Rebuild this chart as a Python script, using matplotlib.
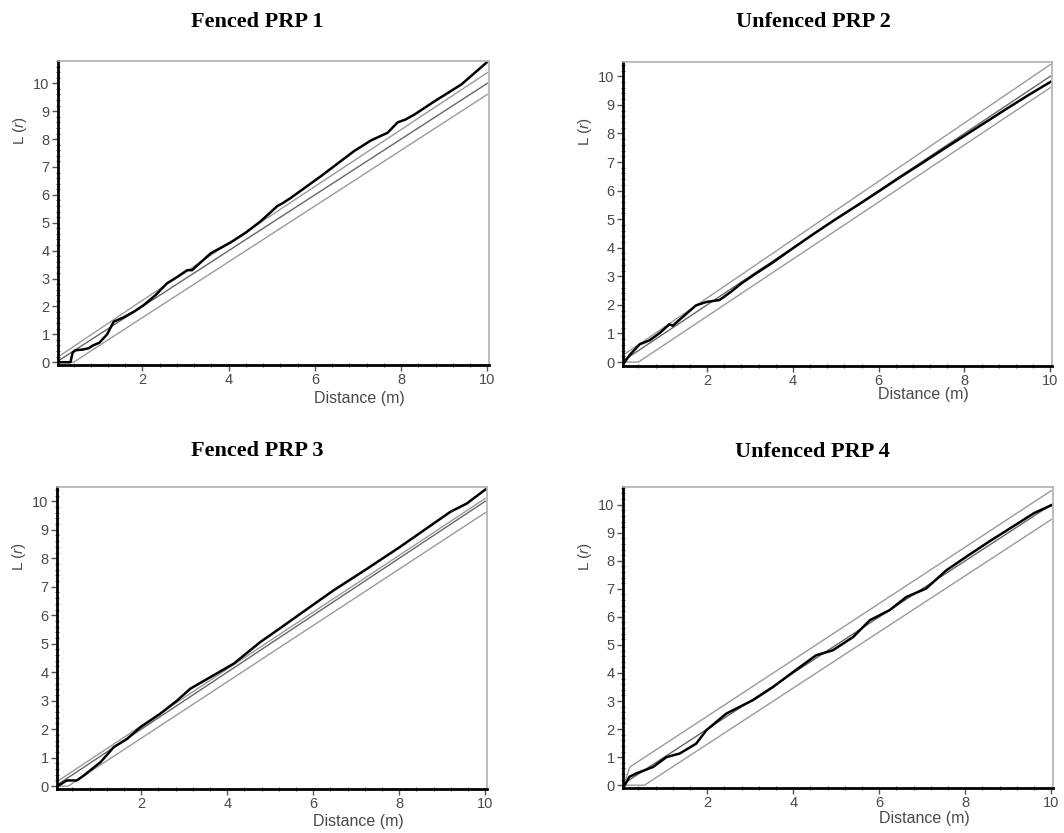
import matplotlib.pyplot as plt
from matplotlib.ticker import MultipleLocator, FixedLocator

plt.rcParams["mathtext.fontset"] = "custom"
plt.rcParams["mathtext.rm"] = "Liberation Sans"
plt.rcParams["mathtext.it"] = "Liberation Sans:italic"

# Ripley's L-function, observed curves and envelopes for four plots
TITLES = ["Fenced PRP 1", "Unfenced PRP 2", "Fenced PRP 3", "Unfenced PRP 4"]

# observed L(r)
P1_R = [0.05, 0.2, 0.33, 0.38, 0.45, 0.6, 0.75, 0.85, 1.0, 1.18, 1.33, 1.55, 1.8, 2.03,
        2.3, 2.57, 2.8, 3.04, 3.15, 3.58, 4.05, 4.4, 4.74, 5.13, 5.25, 5.44, 6.14, 6.91,
        7.3, 7.69, 7.92, 8.1, 8.31, 8.78, 9.4, 9.98]
P1_L = [0.0, 0.0, 0.0, 0.35, 0.43, 0.45, 0.5, 0.6, 0.7, 1.0, 1.45, 1.6, 1.81, 2.05,
        2.4, 2.83, 3.05, 3.3, 3.3, 3.9, 4.3, 4.65, 5.05, 5.6, 5.7, 5.89, 6.67, 7.57,
        7.95, 8.23, 8.6, 8.7, 8.88, 9.36, 9.96, 10.74]

P2_R = [0.08, 0.2, 0.43, 0.66, 0.9, 1.12, 1.2, 1.45, 1.74, 1.98, 2.29, 2.55, 2.8, 3.1,
        3.5, 4.0, 4.5, 5.0, 5.5, 6.0, 6.5, 7.0, 7.5, 8.0, 8.5, 9.0, 9.5, 10.0]
P2_L = [0.0, 0.25, 0.62, 0.76, 1.02, 1.32, 1.27, 1.6, 1.98, 2.1, 2.17, 2.45, 2.75, 3.06,
        3.45, 3.98, 4.5, 5.0, 5.48, 5.97, 6.47, 6.95, 7.44, 7.92, 8.4, 8.88, 9.35, 9.8]

P3_R = [0.05, 0.27, 0.5, 0.66, 1.05, 1.36, 1.67, 1.98, 2.44, 2.83, 3.14, 3.68, 4.15,
        4.77, 5.16, 5.7, 6.47, 7.25, 8.02, 8.8, 9.19, 9.57, 10.0]
P3_L = [0.0, 0.2, 0.2, 0.37, 0.84, 1.37, 1.66, 2.07, 2.54, 3.0, 3.42, 3.89, 4.3,
        5.06, 5.47, 6.05, 6.87, 7.63, 8.4, 9.22, 9.63, 9.92, 10.41]

P4_R = [0.08, 0.19, 0.35, 0.74, 1.05, 1.36, 1.74, 1.98, 2.44, 3.06, 3.53, 4.0, 4.53,
        4.92, 5.39, 5.78, 6.24, 6.63, 7.09, 7.56, 8.02, 8.57, 9.19, 9.6, 10.0]
P4_L = [0.0, 0.3, 0.42, 0.65, 1.0, 1.13, 1.48, 1.96, 2.55, 3.03, 3.5, 4.04, 4.63,
        4.81, 5.28, 5.88, 6.24, 6.71, 7.01, 7.66, 8.14, 8.7, 9.3, 9.7, 9.98]

# simulation envelopes (upper / lower)
UP_R = [[0.1, 2.0, 10.0], [0.1, 10.0], [0.08, 10.0], [0.1, 0.2, 10.0]]
UP_L = [[0.25, 2.22, 10.38], [0.3, 10.41], [0.2, 10.1], [0.2, 0.65, 10.5]]
LO_R = [[0.05, 0.4, 10.0], [0.05, 0.4, 10.0], [0.05, 0.3, 10.0], [0.05, 0.54, 10.0]]
LO_L = [[0.0, 0.0, 9.6], [0.0, 0.0, 9.6], [0.0, 0.0, 9.6], [0.0, 0.0, 9.47]]

# expected L(r) = r under complete spatial randomness
CSR_R = [0.0, 10.0]
CSR_L = [0.0, 10.0]

OBS_R = [P1_R, P2_R, P3_R, P4_R]
OBS_L = [P1_L, P2_L, P3_L, P4_L]

Y_MAX = [10.8, 10.5, 10.5, 10.63]
Y_MIN = [-0.1, -0.14, -0.1, -0.1]

# axes boxes in pixels: left, top, right, bottom
W, H = 1064, 833
BOXES = [(58, 61, 489, 365), (623, 62, 1052, 366),
         (57, 487, 487, 789), (623, 487, 1053, 788)]
TITLE_XY = [(257, 22), (813, 22), (257, 451), (812, 452)]
XLABEL_Y = [-0.086, -0.068, -0.084, -0.078]

SANS = "Liberation Sans"
GREY_TXT = "#4a4a4a"

fig = plt.figure(figsize=(W / 100, H / 100), dpi=100)

for i in range(4):
    l, t, r, b = BOXES[i]
    ax = fig.add_axes([l / W, 1 - b / H, (r - l) / W, (b - t) / H])

    # envelopes and CSR line
    ax.plot(UP_R[i], UP_L[i], color="#9a9a9a", lw=1.0)
    ax.plot(LO_R[i], LO_L[i], color="#9a9a9a", lw=1.0)
    ax.plot(CSR_R, CSR_L, color="#666666", lw=1.0)
    ax.plot(OBS_R[i], OBS_L[i], color="black", lw=1.8)

    ax.set_xlim(0.04, 10.04)
    ax.set_ylim(Y_MIN[i], Y_MAX[i])

    ax.xaxis.set_major_locator(FixedLocator([2, 4, 6, 8, 10]))
    ax.xaxis.set_minor_locator(MultipleLocator(0.4))
    ax.yaxis.set_major_locator(FixedLocator(range(0, 11)))
    ax.yaxis.set_minor_locator(MultipleLocator(0.2))

    ax.tick_params(which="major", direction="out", length=4, width=1,
                   color="#555555", labelcolor=GREY_TXT, labelsize=10.5, pad=2)
    ax.tick_params(which="minor", direction="inout", length=2.5, width=0.8,
                   color="#555555")
    for lab in ax.get_xticklabels() + ax.get_yticklabels():
        lab.set_fontfamily(SANS)

    for side in ("left", "bottom"):
        ax.spines[side].set_linewidth(2.0)
        ax.spines[side].set_color("black")
    for side in ("top", "right"):
        ax.spines[side].set_linewidth(1.2)
        ax.spines[side].set_color("#b0b0b0")

    ax.set_xlabel("Distance (m)", fontsize=11.5, family=SANS, color=GREY_TXT)
    ax.xaxis.set_label_coords(0.70, XLABEL_Y[i])
    ax.set_ylabel(r"L ($r$)", fontsize=11, family=SANS, color=GREY_TXT)
    ax.yaxis.set_label_coords(-0.068, 0.77)

    tx, ty = TITLE_XY[i]
    fig.text(tx / W, 1 - ty / H, TITLES[i], ha="center", va="center",
             fontsize=16, fontweight="bold", family="Liberation Serif")

fig.savefig("out.png", dpi=100)
